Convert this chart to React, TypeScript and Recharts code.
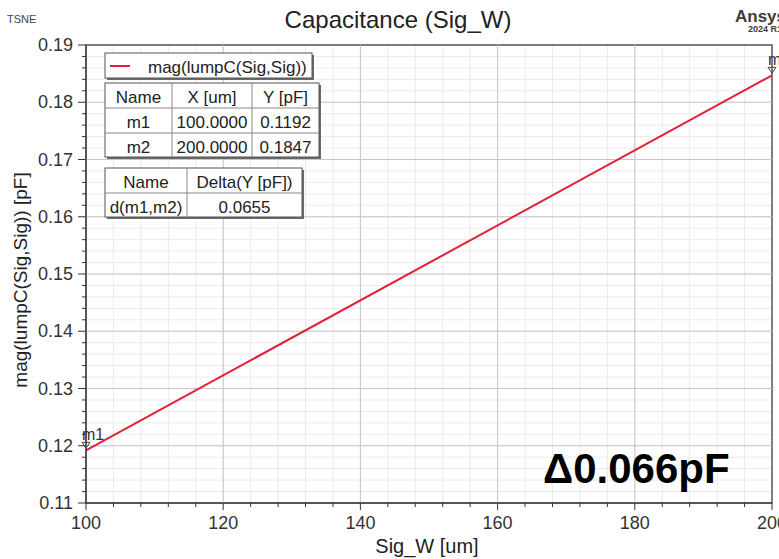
import React from 'react';
import {
  LineChart,
  Line,
  XAxis,
  YAxis,
  CartesianGrid,
  ReferenceLine,
  ReferenceDot,
  ReferenceArea,
} from 'recharts';

// Marker readouts (Sig_W in um, capacitance in pF)
const markerNames = ['m1', 'm2'];
const markerX = [100, 200];
const markerY = [0.1192, 0.1847];

// Axis ticks
const xMajorTicks = [100, 120, 140, 160, 180, 200];
const yMajorTicks = [0.11, 0.12, 0.13, 0.14, 0.15, 0.16, 0.17, 0.18, 0.19];
const xMinorStep = 4;
const yMinorStep = 0.002;

const FONT = 'Liberation Sans, Arial, sans-serif';
const TRACE = '#e3203a';

const buildSteps = (from: number, to: number, step: number, digits: number) => {
  const out: number[] = [];
  const n = Math.round((to - from) / step);
  for (let i = 0; i <= n; i++) out.push(Number((from + i * step).toFixed(digits)));
  return out;
};
const xMinorTicks = buildSteps(xMajorTicks[0], xMajorTicks[xMajorTicks.length - 1], xMinorStep, 0);
const yMinorTicks = buildSteps(yMajorTicks[0], yMajorTicks[yMajorTicks.length - 1], yMinorStep, 3);

const isMajor = (list: number[], v: number) => list.some((t) => Math.abs(t - v) < 1e-9);

const data = markerX.map((x, i) => ({ x, y: markerY[i] }));
const deltaY = markerY[1] - markerY[0];
const deltaTable = (Math.round(deltaY * 1e4) / 1e4).toFixed(4);
const deltaBig = (Math.round(Math.round(deltaY * 1e4) / 10) / 1000).toFixed(3);

const XTick = (props: any) => {
  const { x, y, payload } = props;
  const v = payload.value as number;
  const major = isMajor(xMajorTicks, v);
  return (
    <g>
      <line x1={x} x2={x} y1={y} y2={y + (major ? 7 : 4)} stroke="#333" strokeWidth={1} />
      {major && (
        <text x={x} y={y + 26} textAnchor="middle" fontSize={18} fill="#333" fontFamily={FONT}>
          {v}
        </text>
      )}
    </g>
  );
};

const YTick = (props: any) => {
  const { x, y, payload } = props;
  const v = payload.value as number;
  const major = isMajor(yMajorTicks, v);
  return (
    <g>
      <line x1={x - (major ? 8 : 4)} x2={x} y1={y} y2={y} stroke="#333" strokeWidth={1} />
      {major && (
        <text x={x - 13} y={y + 6} textAnchor="end" fontSize={18} fill="#333" fontFamily={FONT}>
          {v.toFixed(2)}
        </text>
      )}
    </g>
  );
};

const markerShape = (name: string) => (p: any) => {
  const { cx, cy } = p;
  return (
    <g>
      <polygon
        points={`${cx - 4},${cy - 8} ${cx + 4},${cy - 8} ${cx},${cy - 2}`}
        fill="none"
        stroke="#444"
        strokeWidth={1}
      />
      <text x={cx - 4} y={cy - 10} fontSize={16} fill="#333" fontFamily={FONT}>
        {name}
      </text>
    </g>
  );
};

// Boxed readout table drawn as SVG
const Table = ({
  x,
  y,
  cols,
  rowH,
  rows,
}: {
  x: number;
  y: number;
  cols: number[];
  rowH: number[];
  rows: string[][];
}) => {
  const w = cols.reduce((a, b) => a + b, 0);
  const h = rowH.reduce((a, b) => a + b, 0);
  const colX: number[] = [];
  let acc = x;
  cols.forEach((c) => {
    colX.push(acc);
    acc += c;
  });
  const rowY: number[] = [];
  let accY = y;
  rowH.forEach((r) => {
    rowY.push(accY);
    accY += r;
  });
  return (
    <g>
      <rect x={x + 2} y={y + 2} width={w} height={h} fill="#6a6a6a" />
      <rect x={x} y={y} width={w} height={h} fill="#fff" stroke="#555" strokeWidth={1} />
      {colX.slice(1).map((cx, i) => (
        <line key={'c' + i} x1={cx} x2={cx} y1={y} y2={y + h} stroke="#888" strokeWidth={1} />
      ))}
      {rowY.slice(1).map((ry, i) => (
        <line key={'r' + i} x1={x} x2={x + w} y1={ry} y2={ry} stroke="#888" strokeWidth={1} />
      ))}
      {rows.map((r, ri) =>
        r.map((cell, ci) => (
          <text
            key={ri + '-' + ci}
            x={colX[ci] + cols[ci] / 2}
            y={rowY[ri] + 20}
            textAnchor="middle"
            fontSize={17}
            fill="#222"
            fontFamily={FONT}
          >
            {cell}
          </text>
        ))
      )}
    </g>
  );
};

export default function App() {
  const markerRows = markerNames.map((n, i) => [n, markerX[i].toFixed(4), markerY[i].toFixed(4)]);
  return (
    <div style={{ position: 'absolute', left: 0, top: 0, width: 779, height: 559, background: '#fff' }}>
      <LineChart width={779} height={559} data={data} margin={{ top: 45, right: 7, left: 0, bottom: 0 }}>
        <CartesianGrid stroke="#ebebeb" strokeWidth={1} />
        {xMajorTicks.slice(1, -1).map((v) => (
          <ReferenceLine key={'vx' + v} x={v} stroke="#c6c6c6" strokeWidth={1} />
        ))}
        {yMajorTicks.slice(1, -1).map((v) => (
          <ReferenceLine key={'hy' + v} y={v} stroke="#c6c6c6" strokeWidth={1} />
        ))}
        <XAxis
          dataKey="x"
          type="number"
          domain={[xMajorTicks[0], xMajorTicks[xMajorTicks.length - 1]]}
          ticks={xMinorTicks}
          interval={0}
          tick={<XTick />}
          tickLine={false}
          tickSize={0}
          tickMargin={0}
          axisLine={{ stroke: '#333' }}
          height={56}
          allowDataOverflow
        />
        <YAxis
          type="number"
          domain={[yMajorTicks[0], yMajorTicks[yMajorTicks.length - 1]]}
          ticks={yMinorTicks}
          interval={0}
          tick={<YTick />}
          tickLine={false}
          tickSize={0}
          tickMargin={0}
          axisLine={{ stroke: '#333' }}
          width={86}
          allowDataOverflow
        />
        <ReferenceArea
          x1={xMajorTicks[0]}
          x2={xMajorTicks[xMajorTicks.length - 1]}
          y1={yMajorTicks[0]}
          y2={yMajorTicks[yMajorTicks.length - 1]}
          fill="none"
          fillOpacity={0}
          stroke="#555"
          strokeWidth={1.5}
        />
        <Line
          type="linear"
          dataKey="y"
          stroke={TRACE}
          strokeWidth={2}
          dot={false}
          isAnimationActive={false}
        />
        {markerNames.map((n, i) => (
          <ReferenceDot key={n} x={markerX[i]} y={markerY[i]} r={3} shape={markerShape(n)} />
        ))}
      </LineChart>

      <svg
        width={779}
        height={559}
        style={{ position: 'absolute', left: 0, top: 0, pointerEvents: 'none' }}
      >
        <text x={7} y={23} fontSize={11} fill="#444" fontFamily={FONT}>
          TSNE
        </text>
        <text x={398} y={28} textAnchor="middle" fontSize={24} fill="#222" fontFamily={FONT}>
          Capacitance (Sig_W)
        </text>
        <text x={735} y={22} fontSize={17} fontWeight="bold" fill="#3c3c3c" fontFamily={FONT}>
          Ansys
        </text>
        <text x={748} y={32} fontSize={9} fontWeight="bold" fill="#3c3c3c" fontFamily={FONT}>
          2024 R1
        </text>
        <text x={427} y={553} textAnchor="middle" fontSize={20} fill="#222" fontFamily={FONT}>
          Sig_W [um]
        </text>
        <text
          transform="translate(27,280) rotate(-90)"
          x={0}
          y={0}
          textAnchor="middle"
          fontSize={19}
          fill="#222"
          fontFamily={FONT}
        >
          mag(lumpC(Sig,Sig)) [pF]
        </text>

        {/* legend */}
        <rect x={107} y={55} width={207} height={25} fill="#6a6a6a" />
        <rect x={105} y={53} width={207} height={25} fill="#fff" stroke="#555" strokeWidth={1} />
        <line x1={110} x2={130} y1={66} y2={66} stroke={TRACE} strokeWidth={2} />
        <text x={148} y={73} fontSize={17} fill="#222" fontFamily={FONT}>
          mag(lumpC(Sig,Sig))
        </text>

        <Table
          x={105}
          y={83}
          cols={[67, 80, 67]}
          rowH={[25, 25, 24]}
          rows={[['Name', 'X [um]', 'Y [pF]'], ...markerRows]}
        />
        <Table
          x={105}
          y={168}
          cols={[82, 115]}
          rowH={[25, 24]}
          rows={[
            ['Name', 'Delta(Y [pF])'],
            [`d(${markerNames[0]},${markerNames[1]})`, deltaTable],
          ]}
        />

        <text x={543} y={483} fontSize={42} fontWeight="bold" fill="#000" fontFamily={FONT}>
          {`Δ${deltaBig}pF`}
        </text>
      </svg>
    </div>
  );
}
